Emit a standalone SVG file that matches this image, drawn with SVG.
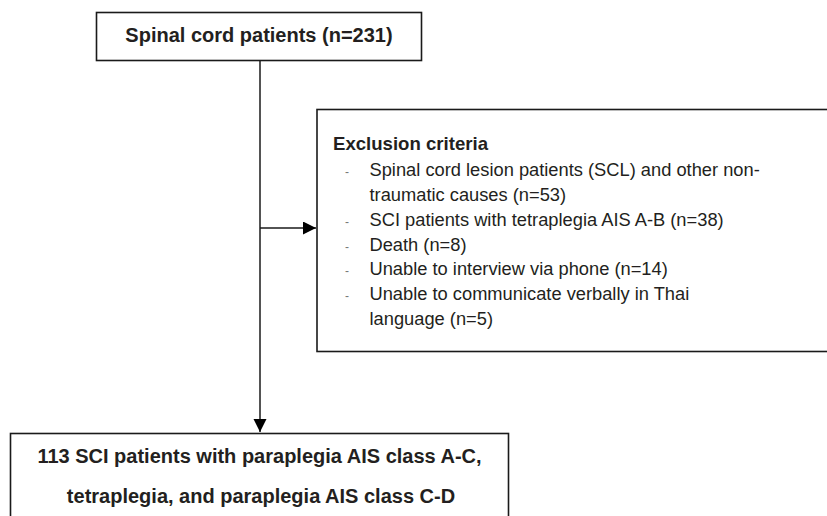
<svg xmlns="http://www.w3.org/2000/svg" width="827" height="516" viewBox="0 0 827 516">
<defs>
<style>
.box{fill:#fff;stroke:#1a1a1a;stroke-width:1.6}
.b{font-family:"Liberation Sans",Arial,sans-serif;font-weight:bold;fill:#231f20}
.r{font-family:"Liberation Sans",Arial,sans-serif;fill:#231f20;font-size:18.3px}
.dash{font-family:"Liberation Sans",Arial,sans-serif;fill:#777;font-size:12px}
.con{fill:none;stroke:#1a1a1a;stroke-width:1.5}
</style>
<marker id="ah" markerUnits="userSpaceOnUse" markerWidth="14" markerHeight="14" refX="13" refY="6.5" orient="auto">
<path d="M0,0 L13,6.5 L0,13 Z" fill="#000"/>
</marker>
</defs>
<rect width="827" height="516" fill="#fff"/>
<g id="connectors">
<line class="con" x1="260" y1="60" x2="260" y2="432" marker-end="url(#ah)"/>
<line class="con" x1="260" y1="228" x2="316" y2="228" marker-end="url(#ah)"/>
</g>
<g id="start">
<rect class="box" x="96.5" y="12.5" width="325" height="48"/>
<text class="b" x="259" y="41.5" font-size="20" text-anchor="middle">Spinal cord patients (n=231)</text>
</g>
<g id="exclusion">
<rect class="box" x="317" y="109.5" width="540" height="242"/>
<text class="b" x="333" y="150" font-size="18.6">Exclusion criteria</text>
<text class="dash" x="345" y="176">-</text>
<text class="r" x="369.5" y="176">Spinal cord lesion patients (SCL) and other non-</text>
<text class="r" x="369.5" y="200.7">traumatic causes (n=53)</text>
<text class="dash" x="345" y="226">-</text>
<text class="r" x="369.5" y="226">SCI patients with tetraplegia AIS A-B (n=38)</text>
<text class="dash" x="345" y="250.7">-</text>
<text class="r" x="369.5" y="250.7">Death (n=8)</text>
<text class="dash" x="345" y="275">-</text>
<text class="r" x="369.5" y="275">Unable to interview via phone (n=14)</text>
<text class="dash" x="345" y="300">-</text>
<text class="r" x="369.5" y="300">Unable to communicate verbally in Thai</text>
<text class="r" x="369.5" y="325">language (n=5)</text>
</g>
<g id="result">
<rect class="box" x="10.5" y="433.5" width="498" height="100"/>
<text class="b" x="259.5" y="463" font-size="20" text-anchor="middle">113 SCI patients with paraplegia AIS class A-C,</text>
<text class="b" x="261" y="503" font-size="20" text-anchor="middle">tetraplegia, and paraplegia AIS class C-D</text>
</g>
</svg>
